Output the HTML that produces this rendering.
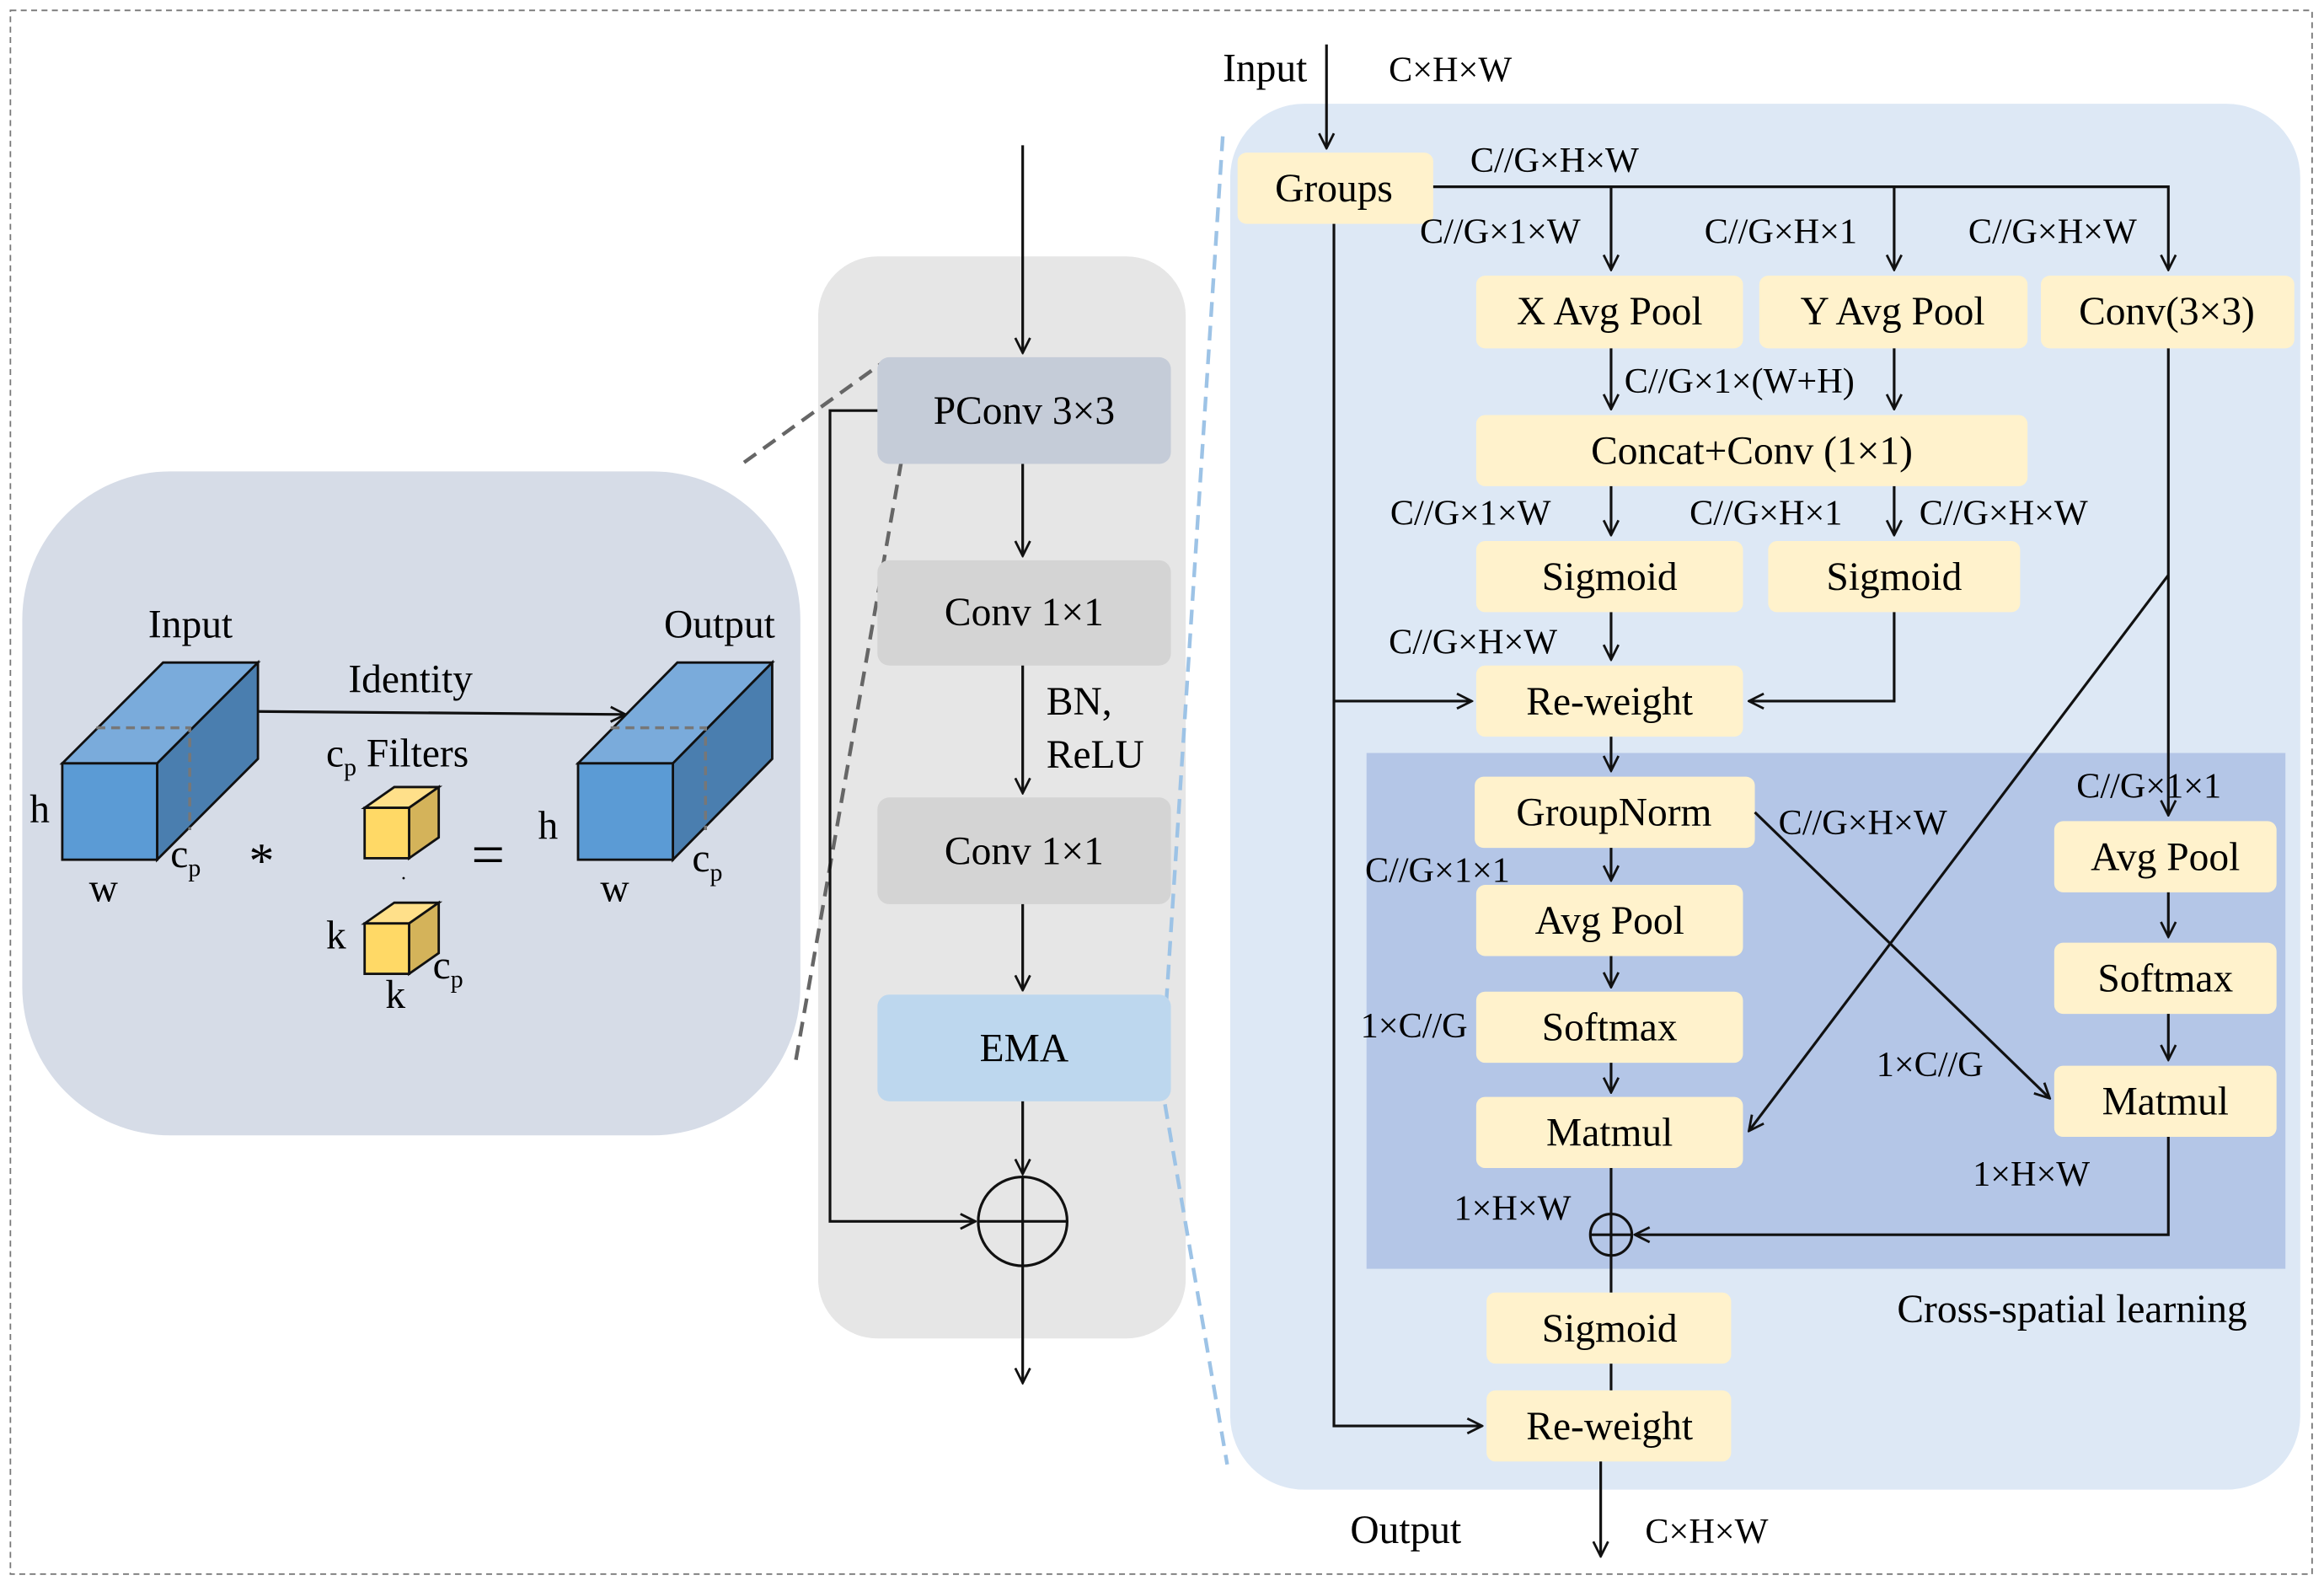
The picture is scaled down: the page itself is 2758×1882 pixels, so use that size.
<!DOCTYPE html>
<html><head><meta charset="utf-8"><style>
html,body{margin:0;padding:0;background:#fff}
svg{display:block}
svg text{font-family:"Liberation Serif","Times New Roman",serif !important;fill:#000}
</style></head><body>
<svg width="2758" height="1882" viewBox="0 0 1568 1070" xmlns="http://www.w3.org/2000/svg" font-family="Liberation Serif, Times New Roman, serif">
<defs>
<marker id="a" viewBox="0 0 12 12" refX="11" refY="6" markerWidth="12" markerHeight="12" markerUnits="userSpaceOnUse" orient="auto">
<path d="M1,1 L11,6 L1,11" fill="none" stroke="#111" stroke-width="1.6"/></marker>
</defs>
<rect x="7" y="7" width="1553" height="1055" fill="#fff" stroke="#777" stroke-dasharray="4,3" stroke-width="1"/>
<rect x="15" y="318" width="525" height="448" rx="100" fill="#d6dce7"/>
<rect x="552" y="173" width="248" height="730" rx="40" fill="#e6e6e6"/>
<rect x="830" y="70" width="722" height="935" rx="50" fill="#dde8f5"/>
<rect x="922" y="508" width="620" height="348" fill="#b4c6e7"/>
<g stroke="#666" stroke-width="2.5" stroke-dasharray="10,6" fill="none">
<line x1="502" y1="312" x2="595" y2="245"/><line x1="537" y1="715" x2="608" y2="312"/></g>
<g stroke="#9dc3e6" stroke-width="2.5" stroke-dasharray="10,6" fill="none">
<line x1="825" y1="92" x2="786" y2="690"/><line x1="786" y1="745" x2="828" y2="988"/></g>

<g stroke="#111" stroke-width="1.6">
<polygon points="42,515 106,515 174,447 110,447" fill="#7aabdb"/>
<polygon points="106,515 174,447 174,512 106,580" fill="#4a7eaf"/>
<rect x="42" y="515" width="64" height="65" fill="#5b9bd5"/>
<polygon points="390,515 454,515 521,447 457,447" fill="#7aabdb"/>
<polygon points="454,515 521,447 521,512 454,580" fill="#4a7eaf"/>
<rect x="390" y="515" width="64" height="65" fill="#5b9bd5"/>
<polygon points="246,545 276,545 296,531 266,531" fill="#ffe08a"/>
<polygon points="276,545 296,531 296,565 276,579" fill="#d4b35a"/>
<rect x="246" y="545" width="30" height="34" fill="#ffd966"/>
<polygon points="246,623 276,623 296,609 266,609" fill="#ffe08a"/>
<polygon points="276,623 296,609 296,643 276,657" fill="#d4b35a"/>
<rect x="246" y="623" width="30" height="34" fill="#ffd966"/>
</g>
<g stroke="#777" stroke-width="2" stroke-dasharray="6,4" fill="none">
<polyline points="65,491 128,491 128,560"/><polyline points="412,491 476,491 476,560"/></g>
<line x1="174" y1="480" x2="422" y2="482" stroke="#111" stroke-width="1.8" marker-end="url(#a)"/>
<g font-size="27">
<text x="100" y="430">Input</text><text x="448" y="430">Output</text>
<text x="235" y="467">Identity</text>
<text x="220" y="517">c<tspan font-size="17" dy="6">p</tspan><tspan dy="-6"> Filters</tspan></text>
<text x="20" y="555">h</text><text x="60" y="608">w</text><text x="115" y="585">c<tspan font-size="17" dy="6">p</tspan></text>
<text x="363" y="566">h</text><text x="405" y="608">w</text><text x="467" y="588">c<tspan font-size="17" dy="6">p</tspan></text>
<text x="220" y="640">k</text><text x="260" y="680">k</text><text x="292" y="660">c<tspan font-size="17" dy="6">p</tspan></text>
<text x="168" y="592" font-size="34">*</text>
<text x="318" y="590" font-size="40">=</text>
<text x="270" y="597" font-size="14">·</text>
</g>

<rect x="592" y="241" width="198" height="72" rx="8" fill="#c5ccd8"/>
<rect x="592" y="378" width="198" height="71" rx="8" fill="#d4d4d4"/>
<rect x="592" y="538" width="198" height="72" rx="8" fill="#d4d4d4"/>
<rect x="592" y="671" width="198" height="72" rx="8" fill="#bdd7ee"/>
<g font-size="27" text-anchor="middle">
<text x="691" y="286">PConv 3×3</text><text x="691" y="422">Conv 1×1</text>
<text x="691" y="583">Conv 1×1</text><text x="691" y="716">EMA</text></g>
<text x="706" y="482" font-size="27">BN,</text><text x="706" y="518" font-size="27">ReLU</text>
<g stroke="#111" stroke-width="1.8" fill="none">
<line x1="690" y1="98" x2="690" y2="238" marker-end="url(#a)"/>
<line x1="690" y1="313" x2="690" y2="375" marker-end="url(#a)"/>
<line x1="690" y1="449" x2="690" y2="535" marker-end="url(#a)"/>
<line x1="690" y1="610" x2="690" y2="668" marker-end="url(#a)"/>
<line x1="690" y1="743" x2="690" y2="792" marker-end="url(#a)"/>
<line x1="690" y1="854" x2="690" y2="933" marker-end="url(#a)"/>
<polyline points="592,277 560,277 560,824 658,824" marker-end="url(#a)"/>
<circle cx="690" cy="824" r="30"/><line x1="660" y1="824" x2="720" y2="824"/><line x1="690" y1="794" x2="690" y2="854"/>
</g>

<g fill="#fff2cc">
<rect x="835" y="103" width="132" height="48" rx="6"/>
<rect x="996" y="186" width="180" height="49" rx="6"/><rect x="1187" y="186" width="181" height="49" rx="6"/><rect x="1377" y="186" width="171" height="49" rx="6"/>
<rect x="996" y="280" width="372" height="48" rx="6"/>
<rect x="996" y="365" width="180" height="48" rx="6"/><rect x="1193" y="365" width="170" height="48" rx="6"/>
<rect x="996" y="449" width="180" height="48" rx="6"/>
<rect x="995" y="524" width="189" height="48" rx="6"/>
<rect x="996" y="597" width="180" height="48" rx="6"/><rect x="996" y="669" width="180" height="48" rx="6"/><rect x="996" y="740" width="180" height="48" rx="6"/>
<rect x="1386" y="554" width="150" height="48" rx="6"/><rect x="1386" y="636" width="150" height="48" rx="6"/><rect x="1386" y="719" width="150" height="48" rx="6"/>
<rect x="1003" y="872" width="165" height="48" rx="6"/><rect x="1003" y="938" width="165" height="48" rx="6"/>
</g>
<g font-size="27" text-anchor="middle">
<text x="900" y="136">Groups</text>
<text x="1086" y="219">X Avg Pool</text><text x="1277" y="219">Y Avg Pool</text><text x="1462" y="219">Conv(3×3)</text>
<text x="1182" y="313">Concat+Conv (1×1)</text>
<text x="1086" y="398">Sigmoid</text><text x="1278" y="398">Sigmoid</text>
<text x="1086" y="482">Re-weight</text><text x="1089" y="557">GroupNorm</text>
<text x="1086" y="630">Avg Pool</text><text x="1086" y="702">Softmax</text><text x="1086" y="773">Matmul</text>
<text x="1461" y="587">Avg Pool</text><text x="1461" y="669">Softmax</text><text x="1461" y="752">Matmul</text>
<text x="1086" y="905">Sigmoid</text><text x="1086" y="971">Re-weight</text>
</g>
<g font-size="24">
<text x="825" y="55" font-size="27">Input</text><text x="937" y="55">C×H×W</text>
<text x="992" y="116">C//G×H×W</text>
<text x="958" y="164">C//G×1×W</text><text x="1150" y="164">C//G×H×1</text><text x="1328" y="164">C//G×H×W</text>
<text x="1096" y="265">C//G×1×(W+H)</text>
<text x="938" y="354">C//G×1×W</text><text x="1140" y="354">C//G×H×1</text><text x="1295" y="354">C//G×H×W</text>
<text x="937" y="441">C//G×H×W</text>
<text x="1401" y="538">C//G×1×1</text><text x="1200" y="563">C//G×H×W</text>
<text x="921" y="595">C//G×1×1</text>
<text x="918" y="700">1×C//G</text><text x="1266" y="726">1×C//G</text>
<text x="1331" y="800">1×H×W</text><text x="981" y="823">1×H×W</text>
<text x="1280" y="892" font-size="27">Cross-spatial learning</text>
<text x="911" y="1041" font-size="27">Output</text><text x="1110" y="1041">C×H×W</text>
</g>
<g stroke="#111" stroke-width="1.8" fill="none">
<line x1="895" y1="30" x2="895" y2="100" marker-end="url(#a)"/>
<polyline points="967,126 1463,126 1463,182" marker-end="url(#a)"/>
<line x1="1087" y1="126" x2="1087" y2="182" marker-end="url(#a)"/>
<line x1="1278" y1="126" x2="1278" y2="182" marker-end="url(#a)"/>
<polyline points="900,151 900,962 1000,962" marker-end="url(#a)"/>
<line x1="900" y1="473" x2="993" y2="473" marker-end="url(#a)"/>
<line x1="1087" y1="235" x2="1087" y2="276" marker-end="url(#a)"/>
<line x1="1278" y1="235" x2="1278" y2="276" marker-end="url(#a)"/>
<line x1="1087" y1="328" x2="1087" y2="361" marker-end="url(#a)"/>
<line x1="1278" y1="328" x2="1278" y2="361" marker-end="url(#a)"/>
<line x1="1087" y1="413" x2="1087" y2="445" marker-end="url(#a)"/>
<polyline points="1278,413 1278,473 1180,473" marker-end="url(#a)"/>
<line x1="1087" y1="497" x2="1087" y2="520" marker-end="url(#a)"/>
<line x1="1087" y1="572" x2="1087" y2="594" marker-end="url(#a)"/>
<line x1="1087" y1="645" x2="1087" y2="666" marker-end="url(#a)"/>
<line x1="1087" y1="717" x2="1087" y2="737" marker-end="url(#a)"/>
<line x1="1087" y1="788" x2="1087" y2="819"/>
<circle cx="1087" cy="833" r="14"/><line x1="1073" y1="833" x2="1101" y2="833"/><line x1="1087" y1="819" x2="1087" y2="872"/>
<line x1="1087" y1="920" x2="1087" y2="938"/>
<line x1="1463" y1="235" x2="1463" y2="550" marker-end="url(#a)"/>
<line x1="1463" y1="388" x2="1180" y2="763" marker-end="url(#a)"/>
<line x1="1184" y1="548" x2="1383" y2="741" marker-end="url(#a)"/>
<line x1="1463" y1="602" x2="1463" y2="632" marker-end="url(#a)"/>
<line x1="1463" y1="684" x2="1463" y2="715" marker-end="url(#a)"/>
<polyline points="1463,767 1463,833 1103,833" marker-end="url(#a)"/>
<line x1="1080" y1="986" x2="1080" y2="1050" marker-end="url(#a)"/>
</g>
</svg>
</body></html>
